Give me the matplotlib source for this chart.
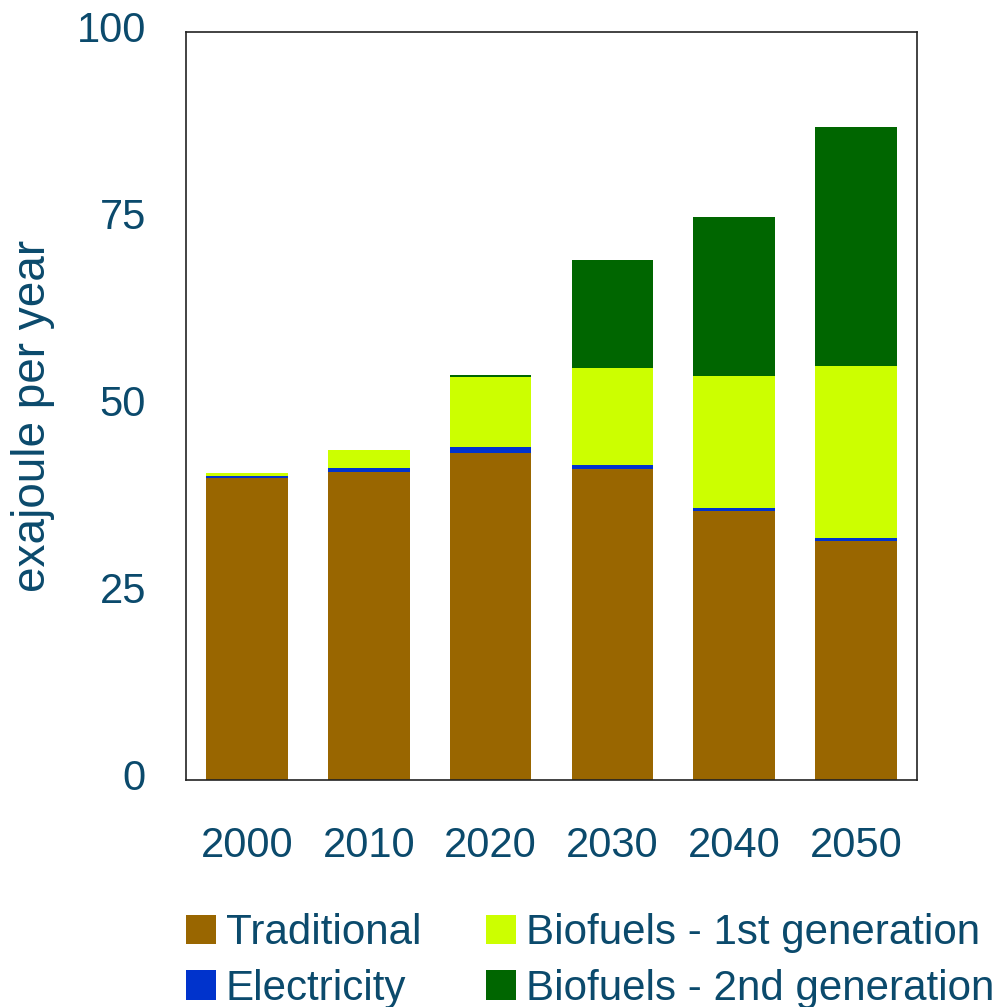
import numpy as np
import matplotlib.pyplot as plt
import matplotlib.transforms as mtransforms

plt.rcParams['font.family'] = ['Liberation Sans', 'DejaVu Sans']

anos = ['2000', '2010', '2020', '2030', '2040', '2050']
tradicional = [40.4, 41.2, 43.7, 41.6, 36.0, 32.0]
eletricidade = [0.3, 0.5, 0.8, 0.5, 0.4, 0.4]
bio_1a = [0.4, 2.4, 9.4, 13.0, 17.6, 22.9]
bio_2a = [0.0, 0.0, 0.3, 14.4, 21.3, 32.0]

cor_texto = '#0b4a6c'

fig = plt.figure(figsize=(10.01, 10.07), dpi=100)
ax = fig.add_axes([0.186, 0.2254, 0.730, 0.7426])

x = np.arange(len(anos))
largura = 0.67
base = np.zeros(len(anos))
series = [
    ('Traditional', tradicional, '#996600'),
    ('Electricity', eletricidade, '#0033cc'),
    ('Biofuels - 1st generation', bio_1a, '#ccff00'),
    ('Biofuels - 2nd generation', bio_2a, '#006600'),
]
barras = {}
for nome, valores, cor in series:
    barras[nome] = ax.bar(x, valores, largura, bottom=base, color=cor, label=nome, linewidth=0)
    base = base + np.array(valores)

ax.set_xlim(-0.5, 5.5)
ax.set_ylim(0, 100)
ax.set_xticks(x)
ax.set_xticklabels(anos)
ax.set_yticks([0, 25, 50, 75, 100])
ax.tick_params(axis='both', length=0, labelsize=30, colors=cor_texto)
ax.tick_params(axis='x', pad=33)
ax.tick_params(axis='y', pad=29)
# rótulos do eixo y um pouco acima da marca
desloca = mtransforms.ScaledTranslation(0, 0.06, fig.dpi_scale_trans)
for lbl in ax.get_yticklabels():
    lbl.set_transform(lbl.get_transform() + desloca)
ax.set_ylabel('exajoule per year', fontsize=33, color=cor_texto)
ax.yaxis.set_label_coords(-0.18, 0.487)
for sp in ax.spines.values():
    sp.set_color('#222222')
    sp.set_linewidth(1.2)

# legenda em duas colunas: Traditional / Electricity | Biofuels 1a / 2a
ordem = ['Traditional', 'Electricity', 'Biofuels - 1st generation', 'Biofuels - 2nd generation']
leg = fig.legend([barras[n] for n in ordem], ordem, loc='upper left',
                 bbox_to_anchor=(0.186, 0.093), ncol=2, frameon=False,
                 fontsize=30.3, labelcolor=cor_texto, handlelength=0.7, handleheight=0.7,
                 handletextpad=0.24, columnspacing=1.55, labelspacing=0.37,
                 borderpad=0, borderaxespad=0)

plt.savefig('out.png', dpi=100)
